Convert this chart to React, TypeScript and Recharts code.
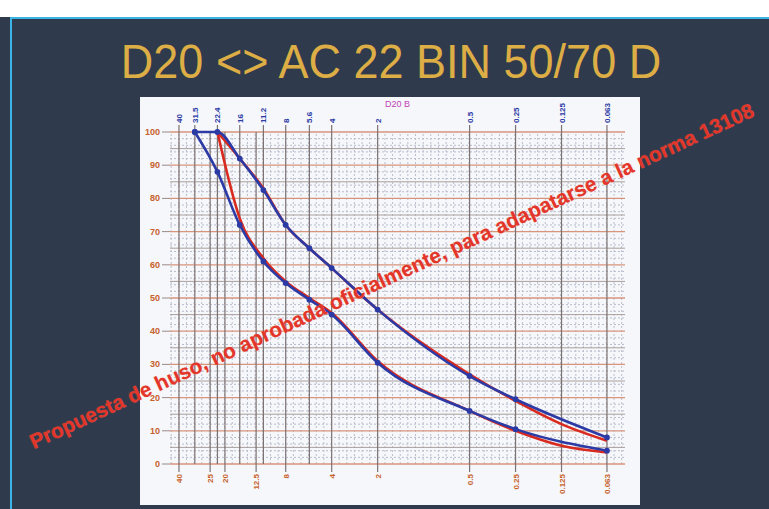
import React from 'react';
import {
    LineChart,
    Line,
    XAxis,
    YAxis,
    ReferenceLine,
} from 'recharts';

// Sieve sizes (mm) printed along the top and bottom edges
const topSieves = [40, 31.5, 22.4, 16, 11.2, 8, 5.6, 4, 2, 0.5, 0.25, 0.125, 0.063];
const bottomSieves = [40, 25, 20, 12.5, 8, 4, 2, 0.5, 0.25, 0.125, 0.063];
const passTicks = [0, 10, 20, 30, 40, 50, 60, 70, 80, 90, 100];

// Official envelope (blue)
const blueUpperSizes = [31.5, 22.4, 16, 11.2, 8, 5.6, 4, 2, 0.5, 0.25, 0.063];
const blueUpperPass = [100, 100, 92, 82.5, 72, 65, 59, 46.5, 26.5, 19.5, 8];
const blueLowerSizes = [31.5, 22.4, 16, 11.2, 8, 5.6, 4, 2, 0.5, 0.25, 0.063];
const blueLowerPass = [100, 88, 72, 61, 54.5, 49.5, 45, 30.5, 16, 10.5, 4];

// Proposed envelope (red)
const redUpperSizes = [22.4, 16, 11.2, 8, 5.6, 4, 2, 0.5, 0.25, 0.125, 0.063];
const redUpperPass = [100, 92, 83, 72, 65, 59, 46.5, 27, 19, 12, 7];
const redLowerSizes = [22.4, 16, 11.2, 8, 5.6, 4, 2, 0.5, 0.25, 0.125, 0.063];
const redLowerPass = [100, 74, 62, 55, 50, 45.5, 31, 16, 10, 5.5, 3.5];

const TITLE = 'D20 <> AC 22 BIN 50/70 D';
const STAMP = 'Propuesta de huso, no aprobada oficialmente, para adapatarse a la norma 13108';

const BLUE = '#2c3aa6';
const RED = '#d92a1f';
const ORANGE = '#c8622c';

const toRows = (sizes: number[], pass: number[]) =>
    sizes.map((s, i) => ({ size: s, pass: pass[i] }));

// grid helpers (styling only)
const minorRows = Array.from({ length: 51 }, (_, i) => i * 2).filter(v => v % 5 !== 0);
const midRows = [5, 15, 25, 35, 45, 55, 65, 75, 85, 95];
const minorCols = Array.from({ length: 60 }, (_, k) => 45 * Math.pow(10, -k / 20));
const allSieves = Array.from(new Set([...topSieves, ...bottomSieves]));

const TopTick = ({ x, y, payload }: any) => (
    <text
        x={x + 3}
        y={y}
        transform={`rotate(-90, ${x + 3}, ${y})`}
        fontSize={8}
        fontWeight="bold"
        fontFamily="Liberation Sans, Arial, sans-serif"
        fill={BLUE}
        textAnchor="start"
    >
        {payload.value}
    </text>
);

const BottomTick = ({ x, y, payload }: any) => (
    <text
        x={x + 3}
        y={y}
        transform={`rotate(-90, ${x + 3}, ${y})`}
        fontSize={8}
        fontWeight="bold"
        fontFamily="Liberation Sans, Arial, sans-serif"
        fill={ORANGE}
        textAnchor="end"
    >
        {payload.value}
    </text>
);

const LeftTick = ({ x, y, payload }: any) => (
    <text
        x={x}
        y={y + 3}
        fontSize={9}
        fontWeight="bold"
        fontFamily="Liberation Sans, Arial, sans-serif"
        fill={ORANGE}
        textAnchor="end"
    >
        {payload.value}
    </text>
);

export default function App() {
    return (
        <div style={{ position: 'relative', width: 769, height: 509, overflow: 'hidden', background: '#2f3a4c' }}>
            <style>{'body{margin:0}'}</style>
            {/* page strip + frame */}
            <div style={{ position: 'absolute', left: 0, top: 0, width: 769, height: 17, background: '#ffffff' }} />
            <div style={{ position: 'absolute', left: 10, top: 17, width: 759, height: 2, background: '#3bb4e6' }} />
            <div style={{ position: 'absolute', left: 10, top: 17, width: 2, height: 492, background: '#3bb4e6' }} />

            <div
                style={{
                    position: 'absolute', left: 0, width: 782, top: 38, textAlign: 'center',
                    fontFamily: 'Liberation Sans, Arial, sans-serif', fontSize: 45, color: '#dcae45',
                    lineHeight: '48px', transform: 'scaleY(1.05)',
                }}
            >
                {TITLE}
            </div>

            {/* chart sheet */}
            <div style={{ position: 'absolute', left: 140, top: 97, width: 500, height: 408, background: '#f5f7fa' }} />
            <div
                style={{
                    position: 'absolute', left: 385, top: 99, fontSize: 9, color: '#c044b8',
                    fontFamily: 'Liberation Sans, Arial, sans-serif',
                }}
            >
                D20 B
            </div>

            <div style={{ position: 'absolute', left: 0, top: 0 }}>
                <LineChart width={769} height={509} margin={{ top: 97, right: 144, bottom: 5, left: 140 }}>
                    <XAxis
                        xAxisId="top"
                        orientation="top"
                        type="number"
                        dataKey="size"
                        scale="log"
                        domain={[0.048, 45.8]}
                        allowDataOverflow
                        reversed
                        ticks={topSieves}
                        interval={0}
                        height={35}
                        axisLine={false}
                        tickSize={7}
                        tickLine={{ stroke: '#7d7272', strokeWidth: 1.2 }}
                        tick={<TopTick />}
                    />
                    <XAxis
                        xAxisId="bottom"
                        orientation="bottom"
                        type="number"
                        dataKey="size"
                        scale="log"
                        domain={[0.048, 45.8]}
                        allowDataOverflow
                        reversed
                        ticks={bottomSieves}
                        interval={0}
                        height={40}
                        axisLine={false}
                        tickSize={8}
                        tickLine={{ stroke: '#7d7272', strokeWidth: 1.2 }}
                        tick={<BottomTick />}
                    />
                    <YAxis
                        type="number"
                        domain={[0, 100]}
                        ticks={passTicks}
                        interval={0}
                        width={30}
                        axisLine={false}
                        tickSize={8}
                        tickLine={{ stroke: '#9a8a88' }}
                        tick={<LeftTick />}
                    />

                    {minorRows.map(v => (
                        <ReferenceLine key={`mr${v}`} xAxisId="bottom" y={v} stroke="#b9bccb" strokeDasharray="2 2" strokeWidth={1} />
                    ))}
                    {minorCols.map((v, i) => (
                        <ReferenceLine key={`mc${i}`} xAxisId="bottom" x={v} stroke="#bcbfcc" strokeDasharray="2 2" strokeWidth={1} />
                    ))}
                    {midRows.map(v => (
                        <ReferenceLine key={`md${v}`} xAxisId="bottom" y={v} stroke="#aa9e9e" strokeWidth={1} />
                    ))}
                    {passTicks.map(v => (
                        <ReferenceLine key={`mj${v}`} xAxisId="bottom" y={v} stroke="#d8957c" strokeWidth={1.3} />
                    ))}
                    {allSieves.map(v => (
                        <ReferenceLine key={`sv${v}`} xAxisId="bottom" x={v} stroke="#7d7272" strokeWidth={1.2} />
                    ))}

                    <Line xAxisId="bottom" data={toRows(redUpperSizes, redUpperPass)} dataKey="pass" type="monotone"
                        stroke={RED} strokeWidth={2.6} dot={false} isAnimationActive={false} />
                    <Line xAxisId="bottom" data={toRows(redLowerSizes, redLowerPass)} dataKey="pass" type="monotone"
                        stroke={RED} strokeWidth={2.6} dot={false} isAnimationActive={false} />
                    <Line xAxisId="bottom" data={toRows(blueUpperSizes, blueUpperPass)} dataKey="pass" type="monotone"
                        stroke={BLUE} strokeWidth={2.6} dot={{ r: 1.6, fill: BLUE, stroke: BLUE }} isAnimationActive={false} />
                    <Line xAxisId="bottom" data={toRows(blueLowerSizes, blueLowerPass)} dataKey="pass" type="monotone"
                        stroke={BLUE} strokeWidth={2.6} dot={{ r: 1.6, fill: BLUE, stroke: BLUE }} isAnimationActive={false} />
                </LineChart>
            </div>

            {/* diagonal stamp */}
            <div
                style={{
                    position: 'absolute', left: 392, top: 276, whiteSpace: 'nowrap',
                    transform: 'translate(-50%, -50%) rotate(-24.8deg)',
                    fontFamily: 'Liberation Sans, Arial, sans-serif', fontWeight: 'bold', fontSize: 20.8,
                    color: '#e3352a', textShadow: '0 0 1px rgba(255,120,90,0.6)',
                }}
            >
                {STAMP}
            </div>
        </div>
    );
}
